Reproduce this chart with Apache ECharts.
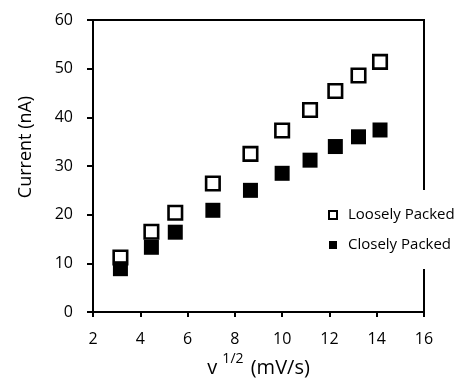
<!DOCTYPE html>
<html>
<head>
<meta charset="utf-8">
<script src="https://cdn.jsdelivr.net/npm/echarts@6/dist/echarts.min.js"></script>
<style>
html,body{margin:0;padding:0;background:#fff;}
#chart{width:461px;height:379px;}
</style>
</head>
<body>
<div id="chart"></div>
<script>
const sqrtScanRate = [3.16, 4.47, 5.48, 7.07, 8.66, 10.0, 11.18, 12.25, 13.23, 14.14];
const looselyPacked = [11.2, 16.5, 20.4, 26.4, 32.5, 37.3, 41.5, 45.4, 48.6, 51.4];
const closelyPacked = [8.9, 13.3, 16.4, 20.9, 25.0, 28.5, 31.2, 34.0, 36.0, 37.4];
const seriesNames = ['Loosely Packed', 'Closely Packed'];
const xTitle = '{v|v }{sup|1/2}{v| (mV/s)}';
const yTitle = 'Current (nA)';

const FONT = 'Open Sans';
const chart = echarts.init(document.getElementById('chart'), null, {renderer: 'canvas'});
const pairs = (ys) => sqrtScanRate.map((x, i) => [x, ys[i]]);

chart.setOption({
  animation: false,
  backgroundColor: '#fff',
  textStyle: {fontFamily: FONT},
  grid: {left: 93, right: 37, top: 20, bottom: 67, containLabel: false, outerBoundsMode: 'none',
         show: true, borderColor: '#000', borderWidth: 2, backgroundColor: 'transparent'},
  xAxis: {
    type: 'value', min: 2, max: 16, interval: 2,
    name: xTitle, nameLocation: 'middle', nameGap: 32,
    nameTextStyle: {
      fontFamily: FONT, fontSize: 20, color: '#000',
      rich: {
        v: {fontFamily: FONT, fontSize: 20, color: '#000', lineHeight: 26, verticalAlign: 'bottom'},
        sup: {fontFamily: FONT, fontSize: 14, color: '#000', lineHeight: 26, verticalAlign: 'top', padding: [0, 2, 0, 0]}
      }
    },
    axisLine: {onZero: false, lineStyle: {color: '#000', width: 2}},
    axisTick: {show: true, inside: false, length: 5, lineStyle: {color: '#000', width: 2}},
    axisLabel: {fontFamily: FONT, fontSize: 16, color: '#000', margin: 19},
    splitLine: {show: false}
  },
  yAxis: {
    type: 'value', min: 0, max: 60, interval: 10,
    name: yTitle, nameLocation: 'middle', nameGap: 58,
    nameTextStyle: {fontFamily: FONT, fontSize: 18, color: '#000', padding: [0, 0, 0, 38]},
    axisLine: {onZero: false, lineStyle: {color: '#000', width: 2}},
    axisTick: {show: true, inside: false, length: 6, lineStyle: {color: '#000', width: 2}},
    axisLabel: {fontFamily: FONT, fontSize: 16, color: '#000', margin: 20},
    splitLine: {show: false}
  },
  legend: {
    orient: 'vertical', left: 322, top: 190,
    backgroundColor: '#fff',
    padding: [17, 4, 16, 6],
    itemGap: 14, itemWidth: 8, itemHeight: 8,
    textStyle: {fontFamily: FONT, fontSize: 15, color: '#000', lineHeight: 16, padding: [0, 0, 0, 6]},
    z: 10,
    data: [
      {name: seriesNames[0], icon: 'rect', itemStyle: {color: '#fff', borderColor: '#000', borderWidth: 2}},
      {name: seriesNames[1], icon: 'rect', itemStyle: {color: '#000', borderWidth: 0}}
    ]
  },
  series: [
    {
      name: seriesNames[0], type: 'scatter', symbol: 'rect', symbolSize: 13.5,
      itemStyle: {color: '#fff', borderColor: '#000', borderWidth: 2.6, opacity: 1},
      data: pairs(looselyPacked), z: 2
    },
    {
      name: seriesNames[1], type: 'scatter', symbol: 'rect', symbolSize: 15,
      itemStyle: {color: '#000', borderWidth: 0, opacity: 1},
      data: pairs(closelyPacked), z: 3
    }
  ]
});
</script>
</body>
</html>
